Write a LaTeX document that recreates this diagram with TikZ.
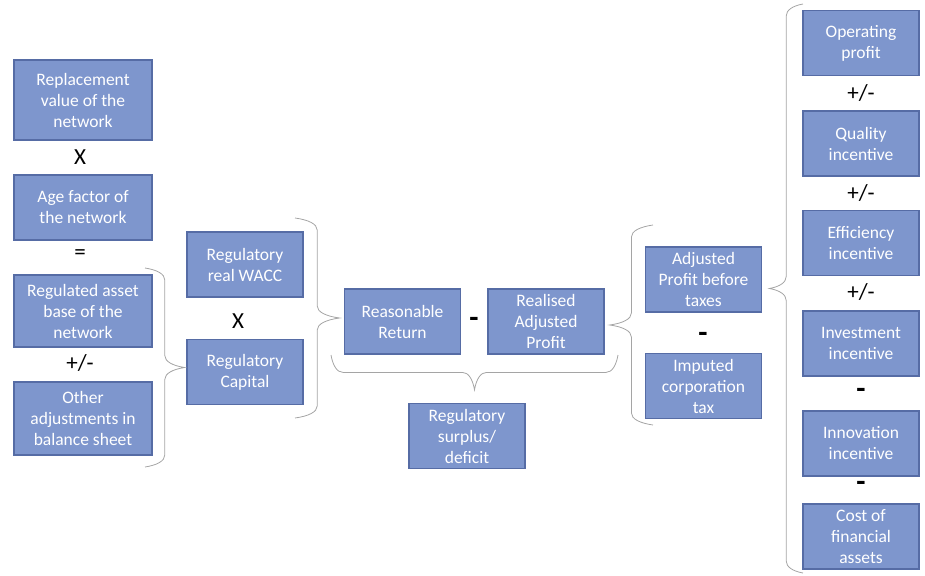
\documentclass[tikz,border=0pt]{standalone}
\usepackage{fontspec}
\setmainfont{Carlito}
\usetikzlibrary{decorations.pathreplacing}
\definecolor{boxfill}{RGB}{126,150,205}
\definecolor{boxline}{RGB}{86,108,165}
\definecolor{bracegray}{RGB}{165,165,165}

\begin{document}
\begin{tikzpicture}[x=1pt, y=-1pt,
	box/.style={draw=boxline, fill=boxfill, line width=1.5pt, text=white, align=center, inner sep=0pt, font=\fontsize{17.5}{21}\selectfont, minimum height=65},
	lbox/.style={box, minimum width=138},
	sbox/.style={box, minimum width=116},
	op/.style={font=\fontsize{23}{24}\selectfont, inner sep=0pt},
	minus/.style={font=\fontsize{30}{30}\bfseries, inner sep=0pt},
	curly/.style={draw=bracegray, line width=0.8pt, decorate, decoration={brace, amplitude=12, transform={yscale=#1}}}]
	\useasboundingbox (0,0) rectangle (925,575);
	\node[lbox, minimum height=80] (repl)  at (83,100)   {Replacement\\value of the\\network};
	\node[op]                      (x1)    at (80,157)   {X};
	\node[lbox]                    (age)   at (83,207.5) {Age factor of\\the network};
	\node[op]                      (eq1)   at (80,255)   {=};
	\node[lbox, minimum height=72] (rab)   at (83,311)   {Regulated asset\\base of the\\network};
	\node[op]                      (pm1)   at (80,363)   {+/-};
	\node[lbox, minimum height=73] (other) at (83,418.5) {Other\\adjustments in\\balance sheet};

	\node[sbox] (wacc)    at (245,264.5) {Regulatory\\real WACC};
	\node[op]   (x2)      at (238,321)   {X};
	\node[sbox] (capital) at (245,372)   {Regulatory\\Capital};

	\node[sbox]  (return)   at (402.5,321.5) {Reasonable\\Return};
	\node[minus] (minus1)   at (474,322)     {-};
	\node[sbox]  (realised) at (546,321.5)   {Realised\\Adjusted\\Profit};
	\node[sbox]  (surplus)  at (467,436)     {Regulatory\\surplus/\\deficit};

	\node[sbox]  (apbt)   at (703.5,279.5) {Adjusted\\Profit before\\taxes};
	\node[minus] (minus2) at (703,337)     {-};
	\node[sbox]  (tax)    at (703.5,386)   {Imputed\\corporation\\tax};

	\node[sbox]  (oper)    at (861,43)    {Operating\\profit};
	\node[op]    (pm2)     at (861,93)    {+/-};
	\node[sbox]  (quality) at (861,143.5) {Quality\\incentive};
	\node[op]    (pm3)     at (861,193)   {+/-};
	\node[sbox]  (effic)   at (861,243)   {Efficiency\\incentive};
	\node[op]    (pm4)     at (861,292)   {+/-};
	\node[sbox]  (invest)  at (861,343.5) {Investment\\incentive};
	\node[minus] (minus3)  at (861,393)   {-};
	\node[sbox]  (innov)   at (861,443.5) {Innovation\\incentive};
	\node[minus] (minus4)  at (861,486)   {-};
	\node[sbox]  (finance) at (861,536.5) {Cost of\\financial\\assets};

	\coordinate (b1a) at (145,268);
	\coordinate (b1b) at (145,467);
	\coordinate (b2a) at (295,218);
	\coordinate (b2b) at (295,418);
	\coordinate (b3a) at (618,355);
	\coordinate (b3b) at (331,355);
	\coordinate (b4a) at (653,425);
	\coordinate (b4b) at (653,225);
	\coordinate (b5a) at (803,573);
	\coordinate (b5b) at (803,4);
	\draw[curly=3.3] (b1a) -- (b1b);
	\draw[curly=3.7] (b2a) -- (b2b);
	\draw[curly=2.9] (b3a) -- (b3b);
	\draw[curly=3.6] (b4a) -- (b4b);
	\draw[curly=2.8] (b5a) -- (b5b);
\end{tikzpicture}
\end{document}
